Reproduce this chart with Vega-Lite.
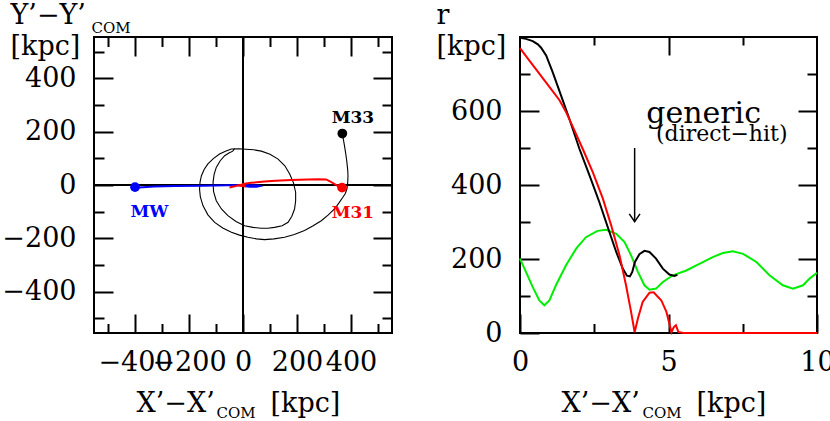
{
  "$schema": "https://vega.github.io/schema/vega-lite/v6.json",
  "padding": {"left": 0, "top": 0, "right": 0, "bottom": 0},
  "spacing": 41,
  "config": {
    "font": "DejaVu Serif",
    "view": {"stroke": "#000000", "strokeWidth": 2},
    "axis": {
      "domain": false, "grid": false, "tickColor": "#000000", "tickWidth": 2,
      "labelFont": "DejaVu Serif", "labelFontSize": 27, "labelColor": "#000000",
      "titleFont": "DejaVu Serif", "titleFontSize": 27, "titleFontWeight": "normal", "titleColor": "#000000",
      "labelOverlap": false, "labelFlush": false, "labelBound": false
    }
  },
  "datasets": {
    "orbits": [
      {"body": "MW", "i": 1, "x": -400, "y": -10},
      {"body": "MW", "i": 2, "x": -385, "y": -9},
      {"body": "MW", "i": 3, "x": -330, "y": -6},
      {"body": "MW", "i": 4, "x": -250, "y": -4},
      {"body": "MW", "i": 5, "x": -150, "y": -3},
      {"body": "MW", "i": 6, "x": -60, "y": -1},
      {"body": "MW", "i": 7, "x": 0, "y": 0},
      {"body": "MW", "i": 8, "x": 30, "y": -1},
      {"body": "MW", "i": 9, "x": 55, "y": -2},
      {"body": "MW", "i": 10, "x": 62, "y": -4},
      {"body": "MW", "i": 11, "x": 50, "y": -7},
      {"body": "MW", "i": 12, "x": 25, "y": -7},
      {"body": "MW", "i": 13, "x": 5, "y": -4},
      {"body": "MW", "i": 14, "x": 0, "y": -2},
      {"body": "M31", "i": 1, "x": 367, "y": -10},
      {"body": "M31", "i": 2, "x": 352, "y": -4},
      {"body": "M31", "i": 3, "x": 338, "y": 4},
      {"body": "M31", "i": 4, "x": 322, "y": 14},
      {"body": "M31", "i": 5, "x": 308, "y": 21},
      {"body": "M31", "i": 6, "x": 280, "y": 22},
      {"body": "M31", "i": 7, "x": 240, "y": 21},
      {"body": "M31", "i": 8, "x": 180, "y": 19},
      {"body": "M31", "i": 9, "x": 120, "y": 16},
      {"body": "M31", "i": 10, "x": 80, "y": 13},
      {"body": "M31", "i": 11, "x": 30, "y": 8},
      {"body": "M31", "i": 12, "x": 0, "y": 4},
      {"body": "M31", "i": 13, "x": -8, "y": -3},
      {"body": "M31", "i": 14, "x": 6, "y": -5},
      {"body": "M31", "i": 15, "x": 2, "y": 2},
      {"body": "M31", "i": 16, "x": -20, "y": -2},
      {"body": "M31", "i": 17, "x": -35, "y": -6},
      {"body": "M31", "i": 18, "x": -50, "y": -9},
      {"body": "M33", "i": 1, "x": 368, "y": 193},
      {"body": "M33", "i": 2, "x": 372, "y": 170},
      {"body": "M33", "i": 3, "x": 376, "y": 147},
      {"body": "M33", "i": 4, "x": 381, "y": 115},
      {"body": "M33", "i": 5, "x": 385, "y": 85},
      {"body": "M33", "i": 6, "x": 388, "y": 55},
      {"body": "M33", "i": 7, "x": 389, "y": 35},
      {"body": "M33", "i": 8, "x": 388, "y": 10},
      {"body": "M33", "i": 9, "x": 385, "y": -15},
      {"body": "M33", "i": 10, "x": 379, "y": -32},
      {"body": "M33", "i": 11, "x": 370, "y": -46},
      {"body": "M33", "i": 12, "x": 355, "y": -68},
      {"body": "M33", "i": 13, "x": 339, "y": -90},
      {"body": "M33", "i": 14, "x": 315, "y": -113},
      {"body": "M33", "i": 15, "x": 290, "y": -134},
      {"body": "M33", "i": 16, "x": 260, "y": -153},
      {"body": "M33", "i": 17, "x": 228, "y": -171},
      {"body": "M33", "i": 18, "x": 190, "y": -186},
      {"body": "M33", "i": 19, "x": 154, "y": -196},
      {"body": "M33", "i": 20, "x": 115, "y": -202},
      {"body": "M33", "i": 21, "x": 80, "y": -205},
      {"body": "M33", "i": 22, "x": 50, "y": -202},
      {"body": "M33", "i": 23, "x": 18, "y": -196},
      {"body": "M33", "i": 24, "x": -13, "y": -188},
      {"body": "M33", "i": 25, "x": -43, "y": -177},
      {"body": "M33", "i": 26, "x": -75, "y": -161},
      {"body": "M33", "i": 27, "x": -105, "y": -140},
      {"body": "M33", "i": 28, "x": -130, "y": -112},
      {"body": "M33", "i": 29, "x": -148, "y": -78},
      {"body": "M33", "i": 30, "x": -158, "y": -45},
      {"body": "M33", "i": 31, "x": -161, "y": -15},
      {"body": "M33", "i": 32, "x": -159, "y": 12},
      {"body": "M33", "i": 33, "x": -154, "y": 35},
      {"body": "M33", "i": 34, "x": -144, "y": 58},
      {"body": "M33", "i": 35, "x": -130, "y": 79},
      {"body": "M33", "i": 36, "x": -110, "y": 99},
      {"body": "M33", "i": 37, "x": -87, "y": 116},
      {"body": "M33", "i": 38, "x": -65, "y": 127},
      {"body": "M33", "i": 39, "x": -43, "y": 135},
      {"body": "M33", "i": 40, "x": -15, "y": 136},
      {"body": "M33", "i": 41, "x": 10, "y": 134},
      {"body": "M33", "i": 42, "x": 40, "y": 132},
      {"body": "M33", "i": 43, "x": 68, "y": 127},
      {"body": "M33", "i": 44, "x": 100, "y": 115},
      {"body": "M33", "i": 45, "x": 130, "y": 97},
      {"body": "M33", "i": 46, "x": 155, "y": 72},
      {"body": "M33", "i": 47, "x": 173, "y": 41},
      {"body": "M33", "i": 48, "x": 187, "y": 8},
      {"body": "M33", "i": 49, "x": 195, "y": -27},
      {"body": "M33", "i": 50, "x": 195, "y": -60},
      {"body": "M33", "i": 51, "x": 191, "y": -90},
      {"body": "M33", "i": 52, "x": 181, "y": -117},
      {"body": "M33", "i": 53, "x": 167, "y": -140},
      {"body": "M33", "i": 54, "x": 145, "y": -153},
      {"body": "M33", "i": 55, "x": 117, "y": -159},
      {"body": "M33", "i": 56, "x": 92, "y": -162},
      {"body": "M33", "i": 57, "x": 68, "y": -162},
      {"body": "M33", "i": 58, "x": 37, "y": -159},
      {"body": "M33", "i": 59, "x": 6, "y": -153},
      {"body": "M33", "i": 60, "x": -26, "y": -137},
      {"body": "M33", "i": 61, "x": -56, "y": -115},
      {"body": "M33", "i": 62, "x": -80, "y": -90},
      {"body": "M33", "i": 63, "x": -99, "y": -59},
      {"body": "M33", "i": 64, "x": -109, "y": -25},
      {"body": "M33", "i": 65, "x": -111, "y": 10},
      {"body": "M33", "i": 66, "x": -107, "y": 40},
      {"body": "M33", "i": 67, "x": -99, "y": 66},
      {"body": "M33", "i": 68, "x": -85, "y": 90},
      {"body": "M33", "i": 69, "x": -68, "y": 110},
      {"body": "M33", "i": 70, "x": -52, "y": 120},
      {"body": "M33", "i": 71, "x": -38, "y": 127},
      {"body": "M33", "i": 72, "x": -30, "y": 137}
    ],
    "bodies": [
      {"body": "MW", "x": -400, "y": -8, "lx": -347, "ly": -120},
      {"body": "M31", "x": 367, "y": -10, "lx": 407, "ly": -124},
      {"body": "M33", "x": 368, "y": 193, "lx": 407, "ly": 232}
    ],
    "sep": [
      {"pair": "MW-M33", "t": 0, "r": 798},
      {"pair": "MW-M33", "t": 0.2, "r": 795},
      {"pair": "MW-M33", "t": 0.43, "r": 789},
      {"pair": "MW-M33", "t": 0.6, "r": 780},
      {"pair": "MW-M33", "t": 0.71, "r": 771},
      {"pair": "MW-M33", "t": 0.88, "r": 750},
      {"pair": "MW-M33", "t": 1.1, "r": 705},
      {"pair": "MW-M33", "t": 1.38, "r": 642},
      {"pair": "MW-M33", "t": 1.66, "r": 579},
      {"pair": "MW-M33", "t": 2.0, "r": 498},
      {"pair": "MW-M33", "t": 2.34, "r": 426},
      {"pair": "MW-M33", "t": 2.67, "r": 354},
      {"pair": "MW-M33", "t": 3.01, "r": 273},
      {"pair": "MW-M33", "t": 3.24, "r": 219},
      {"pair": "MW-M33", "t": 3.46, "r": 174},
      {"pair": "MW-M33", "t": 3.6, "r": 155},
      {"pair": "MW-M33", "t": 3.7, "r": 153},
      {"pair": "MW-M33", "t": 3.78, "r": 165},
      {"pair": "MW-M33", "t": 3.87, "r": 192},
      {"pair": "MW-M33", "t": 4.02, "r": 213},
      {"pair": "MW-M33", "t": 4.19, "r": 222},
      {"pair": "MW-M33", "t": 4.36, "r": 219},
      {"pair": "MW-M33", "t": 4.58, "r": 201},
      {"pair": "MW-M33", "t": 4.81, "r": 174},
      {"pair": "MW-M33", "t": 5.03, "r": 158},
      {"pair": "MW-M33", "t": 5.2, "r": 154},
      {"pair": "MW-M33", "t": 5.3, "r": 157},
      {"pair": "MW-M31", "t": 0, "r": 770},
      {"pair": "MW-M31", "t": 0.31, "r": 737},
      {"pair": "MW-M31", "t": 0.65, "r": 701},
      {"pair": "MW-M31", "t": 0.99, "r": 665},
      {"pair": "MW-M31", "t": 1.33, "r": 629},
      {"pair": "MW-M31", "t": 1.55, "r": 597},
      {"pair": "MW-M31", "t": 1.78, "r": 557},
      {"pair": "MW-M31", "t": 2.11, "r": 498},
      {"pair": "MW-M31", "t": 2.45, "r": 435},
      {"pair": "MW-M31", "t": 2.79, "r": 363},
      {"pair": "MW-M31", "t": 3.07, "r": 291},
      {"pair": "MW-M31", "t": 3.35, "r": 210},
      {"pair": "MW-M31", "t": 3.57, "r": 129},
      {"pair": "MW-M31", "t": 3.74, "r": 57},
      {"pair": "MW-M31", "t": 3.86, "r": 2},
      {"pair": "MW-M31", "t": 3.97, "r": 39},
      {"pair": "MW-M31", "t": 4.13, "r": 84},
      {"pair": "MW-M31", "t": 4.36, "r": 109},
      {"pair": "MW-M31", "t": 4.5, "r": 110},
      {"pair": "MW-M31", "t": 4.76, "r": 88},
      {"pair": "MW-M31", "t": 4.93, "r": 57},
      {"pair": "MW-M31", "t": 5.03, "r": 25},
      {"pair": "MW-M31", "t": 5.1, "r": 2},
      {"pair": "MW-M31", "t": 5.18, "r": 16},
      {"pair": "MW-M31", "t": 5.25, "r": 21},
      {"pair": "MW-M31", "t": 5.33, "r": 3},
      {"pair": "MW-M31", "t": 5.5, "r": 0},
      {"pair": "MW-M31", "t": 10, "r": 0},
      {"pair": "M31-M33", "t": 0, "r": 201},
      {"pair": "M31-M33", "t": 0.2, "r": 165},
      {"pair": "M31-M33", "t": 0.43, "r": 124},
      {"pair": "M31-M33", "t": 0.65, "r": 88},
      {"pair": "M31-M33", "t": 0.82, "r": 75},
      {"pair": "M31-M33", "t": 0.99, "r": 88},
      {"pair": "M31-M33", "t": 1.21, "r": 129},
      {"pair": "M31-M33", "t": 1.55, "r": 183},
      {"pair": "M31-M33", "t": 1.89, "r": 228},
      {"pair": "M31-M33", "t": 2.22, "r": 259},
      {"pair": "M31-M33", "t": 2.61, "r": 276},
      {"pair": "M31-M33", "t": 2.9, "r": 279},
      {"pair": "M31-M33", "t": 3.24, "r": 268},
      {"pair": "M31-M33", "t": 3.52, "r": 246},
      {"pair": "M31-M33", "t": 3.74, "r": 210},
      {"pair": "M31-M33", "t": 3.97, "r": 165},
      {"pair": "M31-M33", "t": 4.19, "r": 129},
      {"pair": "M31-M33", "t": 4.36, "r": 117},
      {"pair": "M31-M33", "t": 4.58, "r": 120},
      {"pair": "M31-M33", "t": 4.81, "r": 138},
      {"pair": "M31-M33", "t": 5.15, "r": 156},
      {"pair": "M31-M33", "t": 5.6, "r": 169},
      {"pair": "M31-M33", "t": 6.04, "r": 187},
      {"pair": "M31-M33", "t": 6.49, "r": 205},
      {"pair": "M31-M33", "t": 6.83, "r": 216},
      {"pair": "M31-M33", "t": 7.17, "r": 221},
      {"pair": "M31-M33", "t": 7.51, "r": 214},
      {"pair": "M31-M33", "t": 7.96, "r": 192},
      {"pair": "M31-M33", "t": 8.4, "r": 156},
      {"pair": "M31-M33", "t": 8.85, "r": 129},
      {"pair": "M31-M33", "t": 9.19, "r": 120},
      {"pair": "M31-M33", "t": 9.53, "r": 129},
      {"pair": "M31-M33", "t": 9.75, "r": 147},
      {"pair": "M31-M33", "t": 10, "r": 163}
    ],
    "arrow": [
      {"seg": "shaft", "i": 1, "t": 3.86, "r": 500},
      {"seg": "shaft", "i": 2, "t": 3.86, "r": 301},
      {"seg": "head", "i": 1, "t": 3.68, "r": 322},
      {"seg": "head", "i": 2, "t": 3.86, "r": 301},
      {"seg": "head", "i": 3, "t": 4.04, "r": 322}
    ]
  },
  "hconcat": [
    {
      "width": 298,
      "height": 296,
      "resolve": {"axis": {"x": "independent", "y": "independent"}},
      "layer": [
        {
          "data": {"values": [{"x": 0, "y": 0}]},
          "mark": {"type": "point", "opacity": 0},
          "encoding": {
            "x": {"field": "x", "type": "quantitative", "scale": {"domain": [-552, 552], "nice": false, "zero": false},
              "axis": {"orient": "bottom", "values": [-400, -200, 0, 200, 400], "tickSize": -19, "labelPadding": 35,
                "title": "X’−X’", "titleAlign": "left", "titleBaseline": "alphabetic", "titleAngle": 0, "titleX": 42, "titleY": 78}},
            "y": {"field": "y", "type": "quantitative", "scale": {"domain": [-555, 555], "nice": false, "zero": false},
              "axis": {"orient": "left", "values": [-400, -200, 0, 200, 400], "tickSize": -19, "labelPadding": 37,
                "title": ["Y’−Y’", "[kpc]"], "titleAlign": "left", "titleBaseline": "alphabetic", "titleAngle": 0, "titleX": -84, "titleY": -14, "titleLineHeight": 31}}
          }
        },
        {
          "data": {"values": [{"x": 0, "y": 0}]},
          "mark": {"type": "point", "opacity": 0},
          "encoding": {
            "x": {"field": "x", "type": "quantitative",
              "axis": {"orient": "bottom", "values": [-500, -300, -100, 100, 300, 500], "tickSize": -9.5, "labels": false,
                "title": "COM", "titleFontSize": 15, "titleAlign": "left", "titleBaseline": "alphabetic", "titleAngle": 0, "titleX": 122, "titleY": 84}},
            "y": {"field": "y", "type": "quantitative",
              "axis": {"orient": "left", "values": [-500, -300, -100, 100, 300, 500], "tickSize": -10, "labels": false,
                "title": "COM", "titleFontSize": 15, "titleAlign": "left", "titleBaseline": "alphabetic", "titleAngle": 0, "titleX": -3, "titleY": -5}}
          }
        },
        {
          "data": {"values": [{"x": 0, "y": 0}]},
          "mark": {"type": "point", "opacity": 0},
          "encoding": {
            "x": {"field": "x", "type": "quantitative",
              "axis": {"orient": "top", "values": [-400, -200, 0, 200, 400], "tickSize": -19, "labels": false,
                "title": "[kpc]", "titleAlign": "left", "titleBaseline": "alphabetic", "titleAngle": 0, "titleX": 176, "titleY": 374}},
            "y": {"field": "y", "type": "quantitative",
              "axis": {"orient": "right", "values": [-400, -200, 0, 200, 400], "tickSize": -19, "labels": false, "title": null}}
          }
        },
        {
          "data": {"values": [{"x": 0, "y": 0}]},
          "mark": {"type": "point", "opacity": 0},
          "encoding": {
            "x": {"field": "x", "type": "quantitative",
              "axis": {"orient": "top", "values": [-500, -300, -100, 100, 300, 500], "tickSize": -9.5, "labels": false, "title": null}},
            "y": {"field": "y", "type": "quantitative",
              "axis": {"orient": "right", "values": [-500, -300, -100, 100, 300, 500], "tickSize": -10, "labels": false, "title": null}}
          }
        },
        {
          "data": {"values": [{"x": 0}]},
          "mark": {"type": "rule", "color": "#000000", "strokeWidth": 2},
          "encoding": {"x": {"field": "x", "type": "quantitative", "axis": null}}
        },
        {
          "data": {"values": [{"y": 0}]},
          "mark": {"type": "rule", "color": "#000000", "strokeWidth": 2},
          "encoding": {"y": {"field": "y", "type": "quantitative", "axis": null}}
        },
        {
          "data": {"name": "orbits"},
          "transform": [{"filter": "datum.body === 'M33'"}],
          "mark": {"type": "line", "color": "#000000", "strokeWidth": 1.1},
          "encoding": {
            "x": {"field": "x", "type": "quantitative", "axis": null},
            "y": {"field": "y", "type": "quantitative", "axis": null},
            "order": {"field": "i", "type": "quantitative"}
          }
        },
        {
          "data": {"name": "orbits"},
          "transform": [{"filter": "datum.body === 'MW'"}],
          "mark": {"type": "line", "color": "#0000ff", "strokeWidth": 2},
          "encoding": {
            "x": {"field": "x", "type": "quantitative", "axis": null},
            "y": {"field": "y", "type": "quantitative", "axis": null},
            "order": {"field": "i", "type": "quantitative"}
          }
        },
        {
          "data": {"name": "orbits"},
          "transform": [{"filter": "datum.body === 'M31'"}],
          "mark": {"type": "line", "color": "#ff0000", "strokeWidth": 2},
          "encoding": {
            "x": {"field": "x", "type": "quantitative", "axis": null},
            "y": {"field": "y", "type": "quantitative", "axis": null},
            "order": {"field": "i", "type": "quantitative"}
          }
        },
        {
          "data": {"name": "bodies"},
          "mark": {"type": "point", "filled": true, "opacity": 1, "size": 95},
          "encoding": {
            "x": {"field": "x", "type": "quantitative", "axis": null},
            "y": {"field": "y", "type": "quantitative", "axis": null},
            "color": {"field": "body", "type": "nominal", "legend": null,
              "scale": {"domain": ["MW", "M31", "M33"], "range": ["#0000ff", "#ff0000", "#000000"]}}
          }
        },
        {
          "data": {"name": "bodies"},
          "mark": {"type": "text", "font": "DejaVu Serif", "fontSize": 17, "fontWeight": "bold", "align": "center", "baseline": "alphabetic"},
          "encoding": {
            "x": {"field": "lx", "type": "quantitative", "axis": null},
            "y": {"field": "ly", "type": "quantitative", "axis": null},
            "text": {"field": "body"},
            "color": {"field": "body", "type": "nominal", "legend": null,
              "scale": {"domain": ["MW", "M31", "M33"], "range": ["#0000ff", "#ff0000", "#000000"]}}
          }
        }
      ]
    },
    {
      "width": 297,
      "height": 296,
      "resolve": {"axis": {"x": "independent", "y": "independent"}},
      "layer": [
        {
          "data": {"values": [{"t": 0, "r": 0}]},
          "mark": {"type": "point", "opacity": 0},
          "encoding": {
            "x": {"field": "t", "type": "quantitative", "scale": {"domain": [0, 10], "nice": false, "zero": false},
              "axis": {"orient": "bottom", "values": [0, 5, 10], "tickSize": -19, "labelPadding": 35,
                "title": "X’−X’", "titleAlign": "left", "titleBaseline": "alphabetic", "titleAngle": 0, "titleX": 41, "titleY": 78}},
            "y": {"field": "r", "type": "quantitative", "scale": {"domain": [0, 800], "nice": false, "zero": false},
              "axis": {"orient": "left", "values": [0, 200, 400, 600], "tickSize": -19, "labelPadding": 37,
                "title": ["r", "[kpc]"], "titleAlign": "left", "titleBaseline": "alphabetic", "titleAngle": 0, "titleX": -84, "titleY": -14, "titleLineHeight": 31}}
          }
        },
        {
          "data": {"values": [{"t": 0, "r": 0}]},
          "mark": {"type": "point", "opacity": 0},
          "encoding": {
            "x": {"field": "t", "type": "quantitative",
              "axis": {"orient": "bottom", "values": [2.5, 7.5], "tickSize": -9.5, "labels": false,
                "title": "COM", "titleFontSize": 15, "titleAlign": "left", "titleBaseline": "alphabetic", "titleAngle": 0, "titleX": 122, "titleY": 84}},
            "y": {"field": "r", "type": "quantitative",
              "axis": {"orient": "left", "values": [100, 300, 500, 700], "tickSize": -10, "labels": false, "title": null}}
          }
        },
        {
          "data": {"values": [{"t": 0, "r": 0}]},
          "mark": {"type": "point", "opacity": 0},
          "encoding": {
            "x": {"field": "t", "type": "quantitative",
              "axis": {"orient": "top", "values": [5], "tickSize": -18, "labels": false,
                "title": "[kpc]", "titleAlign": "left", "titleBaseline": "alphabetic", "titleAngle": 0, "titleX": 176, "titleY": 374}},
            "y": {"field": "r", "type": "quantitative",
              "axis": {"orient": "right", "values": [200, 400, 600], "tickSize": -19, "labels": false, "title": null}}
          }
        },
        {
          "data": {"values": [{"t": 0, "r": 0}]},
          "mark": {"type": "point", "opacity": 0},
          "encoding": {
            "x": {"field": "t", "type": "quantitative",
              "axis": {"orient": "top", "values": [2.5, 7.5], "tickSize": -8, "labels": false, "title": null}},
            "y": {"field": "r", "type": "quantitative",
              "axis": {"orient": "right", "values": [100, 300, 500, 700], "tickSize": -10, "labels": false, "title": null}}
          }
        },
        {
          "data": {"name": "sep"},
          "transform": [{"filter": "datum.pair === 'M31-M33'"}],
          "mark": {"type": "line", "color": "#00ee00", "strokeWidth": 2},
          "encoding": {
            "x": {"field": "t", "type": "quantitative", "axis": null},
            "y": {"field": "r", "type": "quantitative", "axis": null}
          }
        },
        {
          "data": {"name": "sep"},
          "transform": [{"filter": "datum.pair === 'MW-M33'"}],
          "mark": {"type": "line", "color": "#000000", "strokeWidth": 2},
          "encoding": {
            "x": {"field": "t", "type": "quantitative", "axis": null},
            "y": {"field": "r", "type": "quantitative", "axis": null}
          }
        },
        {
          "data": {"name": "sep"},
          "transform": [{"filter": "datum.pair === 'MW-M31'"}],
          "mark": {"type": "line", "color": "#ff0000", "strokeWidth": 2},
          "encoding": {
            "x": {"field": "t", "type": "quantitative", "axis": null},
            "y": {"field": "r", "type": "quantitative", "axis": null}
          }
        },
        {
          "data": {"name": "arrow"},
          "mark": {"type": "line", "color": "#000000", "strokeWidth": 1.5},
          "encoding": {
            "x": {"field": "t", "type": "quantitative", "axis": null},
            "y": {"field": "r", "type": "quantitative", "axis": null},
            "detail": {"field": "seg"},
            "order": {"field": "i", "type": "quantitative"}
          }
        },
        {
          "data": {"values": [{"note": "generic", "t": 4.25, "r": 568}]},
          "mark": {"type": "text", "font": "DejaVu Serif", "fontSize": 30, "align": "left", "baseline": "alphabetic", "color": "#000000"},
          "encoding": {
            "x": {"field": "t", "type": "quantitative", "axis": null},
            "y": {"field": "r", "type": "quantitative", "axis": null},
            "text": {"field": "note"}
          }
        },
        {
          "data": {"values": [{"note": "(direct−hit)", "t": 4.58, "r": 520}]},
          "mark": {"type": "text", "font": "DejaVu Serif", "fontSize": 22, "align": "left", "baseline": "alphabetic", "color": "#000000"},
          "encoding": {
            "x": {"field": "t", "type": "quantitative", "axis": null},
            "y": {"field": "r", "type": "quantitative", "axis": null},
            "text": {"field": "note"}
          }
        }
      ]
    }
  ]
}
